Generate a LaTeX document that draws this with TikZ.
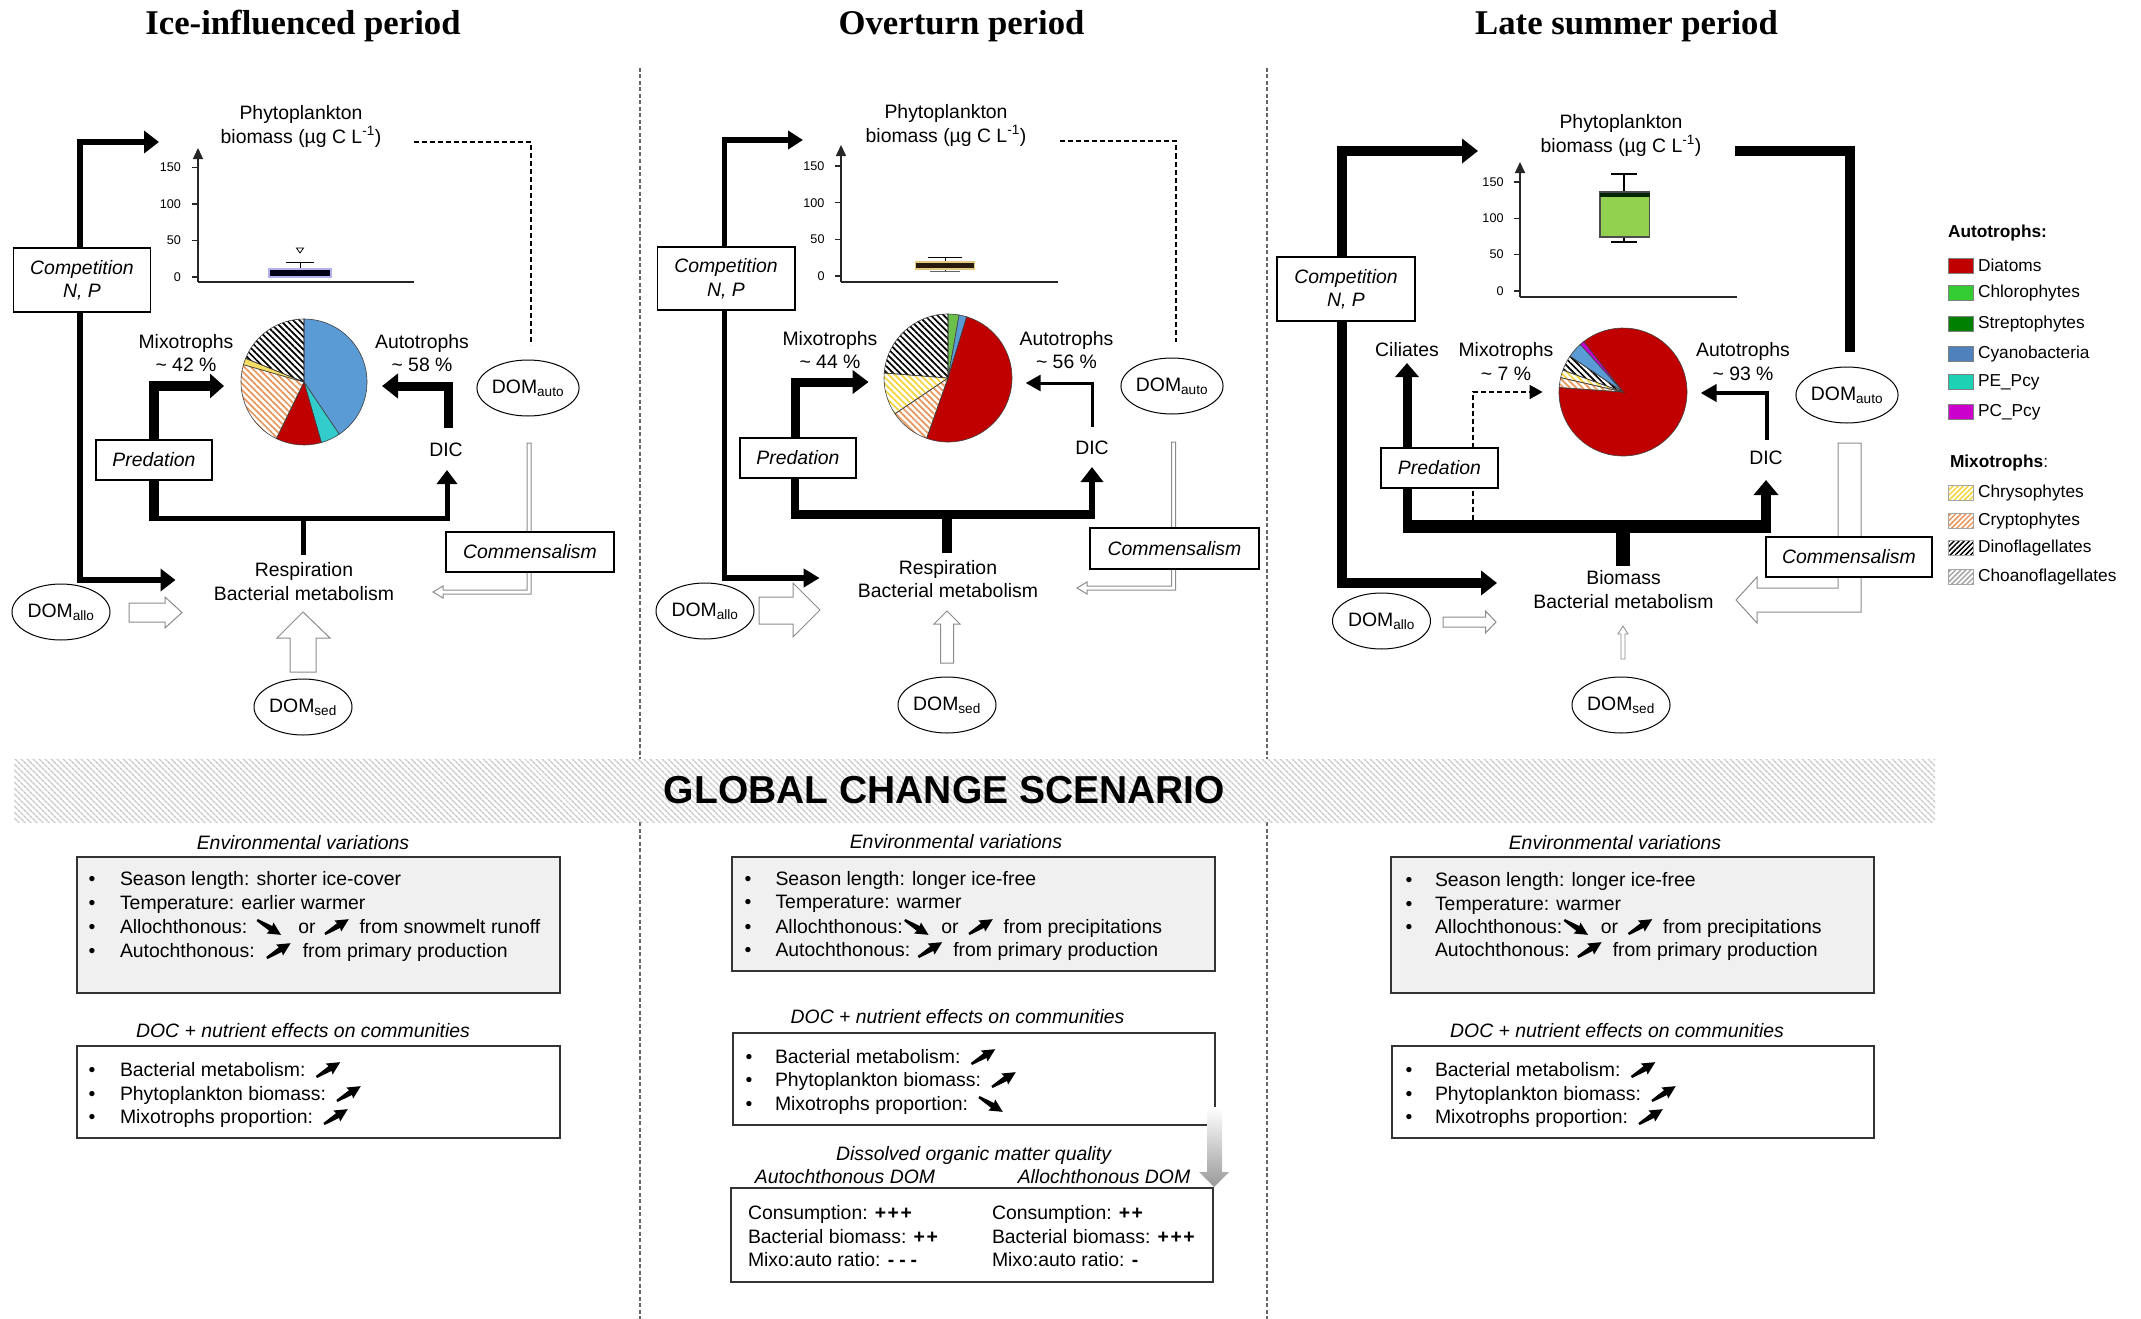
\documentclass[tikz,border=0pt]{standalone}
\usepackage{fontspec}
\setmainfont{Liberation Sans}
\newfontfamily\titleserif{Liberation Serif}
\usetikzlibrary{arrows.meta,shapes.geometric,patterns.meta,calc}
\pgfdeclarelayer{bg}
\pgfsetlayers{bg,main}

% group colours
\definecolor{cdiatom}{HTML}{C00000}
\definecolor{cchloro}{HTML}{33CC33}
\definecolor{cchloropie}{HTML}{6CBF4A}
\definecolor{cstrepto}{HTML}{008000}
\definecolor{ccyano}{HTML}{4F81BD}
\definecolor{ccyanopie}{HTML}{5B9BD5}
\definecolor{cpe}{HTML}{1DD1B5}
\definecolor{cpepie}{HTML}{33CCCC}
\definecolor{cpc}{HTML}{CC00CC}
\definecolor{cchryso}{HTML}{F2D43C}
\definecolor{ccrypto}{HTML}{E8955A}
\definecolor{cchoano}{HTML}{A6A6A6}
\definecolor{cgreenbox}{HTML}{92D050}
\definecolor{cenv}{HTML}{F0F0F0}

\newcommand\fmain{\fontsize{19.4}{23.5}\selectfont}
\newcommand\ftick{\fontsize{12.6}{14}\selectfont}
\newcommand\fleg{\fontsize{17.3}{20}\selectfont}
\newcommand\ftitle{\titleserif\bfseries\fontsize{34.7}{40}\selectfont}
\newcommand\fbanner{\bfseries\fontsize{39}{44}\selectfont}

% text lines of the scenario boxes
\newcounter{lnum}
\newcommand\bulletat[2]{\stepcounter{lnum}\node[anchor=base] (bu\thelnum) at (#1,-#2-7) {\textbullet};}
\newcommand\textat[3]{\stepcounter{lnum}\node[anchor=base west] (tx\thelnum) at (#1,-#2-7) {#3};}
\newcommand\effectline[5]{\bulletat{#1}{#3}\textat{#2}{#3}{#4}\pic at ($(tx\thelnum.base east)+(11,-1)$) {#5};}

% one sector of a pie chart: centre, radius, start angle, end angle, style
\newcommand\pieslice[5]{\path[draw=black!75, line width=0.6pt, #5] (#1) -- ++(#3:#2) arc[start angle=#3, end angle=#4, radius=#2] -- cycle;}

\begin{document}
\begin{tikzpicture}[x=1pt,y=1pt,
  every node/.style={font=\fmain, inner sep=0pt, outer sep=0pt},
  framebox/.style={draw, line width=1.5pt, fill=white, font=\fmain\itshape, align=center},
  domell/.style={ellipse, draw, line width=1pt, fill=white, minimum width=98pt, minimum height=56pt},
  hollow/.style={draw=black!45, line width=1pt, fill=white},
  flow/.style={line join=miter, line cap=butt},
  axisline/.style={line width=1.5pt, black!85},
  sepline/.style={black!60, line width=1.2pt, dash pattern=on 4pt off 2.5pt},
  hatchpie/.style={pattern={Lines[angle=-45,distance=4.5pt,line width=1.7pt]}, pattern color=#1},
  hatchleg/.style={pattern={Lines[angle=45,distance=3.6pt,line width=1.5pt]}, pattern color=#1},
  textbox/.style={draw=black!80, line width=2pt},
  uparrow/.pic={\fill[rotate=32] (0,-1.2) -- (16,-2.8) -- (15,-6.5) -- (28,0) -- (15,6.5) -- (16,2.8) -- (0,1.2) -- cycle;},
  dnarrow/.pic={\fill[shift={(0,14)},rotate=-32] (0,-1.2) -- (16,-2.8) -- (15,-6.5) -- (28,0) -- (15,6.5) -- (16,2.8) -- (0,1.2) -- cycle;}
]
\useasboundingbox (0,0) rectangle (2141,-1319);

\begin{pgfonlayer}{bg}
\fill[white] (0,0) rectangle (2141,-1319);

% column separators
\draw[sepline] (640,-68) -- (640,-759) (640,-822) -- (640,-1319);
\draw[sepline] (1267,-68) -- (1267,-759) (1267,-822) -- (1267,-1319);

% ---------- Ice-influenced period: flows ----------
\draw[flow, line width=6pt, {Triangle[length=15pt,width=22pt]}-{Triangle[length=15pt,width=22pt]}]
  (175.5,-580) -- (80,-580) -- (80,-142) -- (159,-142);
\draw[flow, line width=10pt, -{Triangle[length=14pt,width=24pt]}] (154,-440) -- (154,-386) -- (224,-386);
\draw[flow, line width=10pt] (154,-480) -- (154,-520.5);
\draw[flow, line width=5pt, -{Triangle[length=14pt,width=20pt]}] (149,-518) -- (447,-518) -- (447,-470);
\draw[flow, line width=5pt] (303,-518) -- (303,-555);
\draw[flow, line width=9pt, -{Triangle[length=16pt,width=24pt]}] (448,-428) -- (448,-386) -- (382,-386);
\draw[flow, line width=2pt, dash pattern=on 5pt off 3pt] (414,-142) -- (531,-142) -- (531,-345);
\draw[hollow] (527,-443) -- (527,-590) -- (443,-590) -- (443,-586) -- (433,-592) -- (443,-598) -- (443,-594) -- (531,-594) -- (531,-443) -- cycle;
\draw[hollow] (129,-603) -- (165,-603) -- (165,-597) -- (182,-612.5) -- (165,-628) -- (165,-622) -- (129,-622) -- cycle;
\draw[hollow] (290,-672) -- (290,-638) -- (277,-638) -- (303,-612) -- (330,-638) -- (316,-638) -- (316,-672) -- cycle;

% ---------- Overturn period: flows ----------
\draw[flow, line width=5.5pt, {Triangle[length=16pt,width=18pt]}-{Triangle[length=15pt,width=18pt]}]
  (819.6,-578) -- (724.5,-578) -- (724.5,-140) -- (803,-140);
\draw[flow, line width=9pt, -{Triangle[length=16pt,width=23pt]}] (795,-438) -- (795,-382) -- (868.6,-382);
\draw[flow, line width=8pt] (795,-478) -- (795,-519);
\draw[flow, line width=9pt] (791,-514.5) -- (1095,-514.5);
\draw[flow, line width=6pt, -{Triangle[length=15pt,width=22pt]}] (1092,-519) -- (1092,-467);
\draw[flow, line width=10pt] (947,-514) -- (947,-553);
\draw[flow, line width=3pt, -{Triangle[length=15pt,width=16pt]}] (1092,-427) -- (1092,-383) -- (1025.7,-383);
\draw[flow, line width=2pt, dash pattern=on 5pt off 3pt] (1060,-141) -- (1175.5,-141) -- (1175.5,-342);
\draw[hollow] (1171.5,-442) -- (1171.5,-586) -- (1087,-586) -- (1087,-582) -- (1077,-588) -- (1087,-594) -- (1087,-590) -- (1175.5,-590) -- (1175.5,-442) -- cycle;
\draw[hollow] (759,-597) -- (793,-597) -- (793,-583) -- (820,-610) -- (793,-637) -- (793,-624) -- (759,-624) -- cycle;
\draw[hollow] (940.5,-663) -- (940.5,-624) -- (934,-624) -- (947,-611) -- (960,-624) -- (953.5,-624) -- (953.5,-663) -- cycle;

% ---------- Late summer period: flows ----------
\draw[flow, line width=10pt, {Triangle[length=16pt,width=24pt]}-{Triangle[length=16pt,width=24pt]}]
  (1497,-583) -- (1342,-583) -- (1342,-151) -- (1478,-151);
\draw[flow, line width=10pt] (1735,-151) -- (1849.6,-151) -- (1849.6,-352);
\draw[flow, line width=9pt, -{Triangle[length=14pt,width=23pt]}] (1407,-531) -- (1407,-363);
\draw[flow, line width=13pt] (1402.5,-526.5) -- (1771,-526.5);
\draw[flow, line width=10pt, -{Triangle[length=15pt,width=24pt]}] (1766,-526) -- (1766,-480);
\draw[flow, line width=14pt] (1623,-526) -- (1623,-566);
\draw[flow, line width=1.8pt, dash pattern=on 5pt off 3pt, -{Triangle[length=13pt,width=14pt]}] (1473,-520) -- (1473,-392) -- (1542.6,-392);
\draw[flow, line width=4pt, -{Triangle[length=16pt,width=17pt]}] (1767,-440) -- (1767,-393) -- (1700.6,-393);
\draw[hollow] (1838,-443) -- (1838,-588) -- (1757,-588) -- (1757,-577) -- (1736,-600) -- (1757,-623) -- (1757,-612) -- (1861,-612) -- (1861,-443) -- cycle;
\draw[hollow] (1443,-617) -- (1485.5,-617) -- (1485.5,-611) -- (1496,-622) -- (1485.5,-633) -- (1485.5,-627) -- (1443,-627) -- cycle;
\draw[hollow, line width=0.8pt] (1621,-659) -- (1621,-634) -- (1618,-634) -- (1623,-626) -- (1628,-634) -- (1625,-634) -- (1625,-659) -- cycle;
\end{pgfonlayer}

% ---------- titles ----------
\node[font=\ftitle] (title1) at (303,-26) {Ice-influenced period};
\node[font=\ftitle] (title2) at (961.5,-26) {Overturn period};
\node[font=\ftitle] (title3) at (1626.5,-26) {Late summer period};

% ---------- biomass plots ----------
\node[align=center] (phy1) at (301,-126.5) {Phytoplankton\\biomass (µg C L\textsuperscript{-1})};
\draw[axisline, -{Triangle[length=11pt,width=10pt]}] (198,-282) -- (198,-148);
\draw[axisline] (198,-282) -- (414,-282);
\foreach \v in {0,50,100,150} {
  \draw[line width=1.2pt, black!85] (192,{-277+0.73*\v}) -- (198,{-277+0.73*\v});
  \node[font=\ftick, anchor=east] (ya\v) at (181,{-277+0.73*\v}) {\v};
}
\draw[line width=1pt] (300,-277) -- (300,-262) (286,-262) -- (314,-262);
\filldraw[fill=black!90!blue, draw=black!25!blue!30, line width=1.2pt] (269,-269) rectangle (331,-277);
\draw[line width=0.8pt] (296.5,-248) -- (303.5,-248) -- (300,-253) -- cycle;

\node[align=center] (phy2) at (946,-125.5) {Phytoplankton\\biomass (µg C L\textsuperscript{-1})};
\draw[axisline, -{Triangle[length=11pt,width=10pt]}] (841,-282) -- (841,-145);
\draw[axisline] (841,-282) -- (1058,-282);
\foreach \v in {0,50,100,150} {
  \draw[line width=1.2pt, black!85] (835,{-276+0.733*\v}) -- (841,{-276+0.733*\v});
  \node[font=\ftick, anchor=east] (yb\v) at (824.5,{-276+0.733*\v}) {\v};
}
\draw[line width=1pt, black!60] (930,-271) -- (960,-271);
\draw[line width=1pt] (945,-257) -- (945,-271) (928,-257) -- (962,-257);
\filldraw[fill=black!80!brown, draw=brown!70!yellow!60, line width=1.2pt] (915.5,-262) rectangle (974.7,-269);

\node[align=center] (phy3) at (1621,-135.5) {Phytoplankton\\biomass (µg C L\textsuperscript{-1})};
\draw[axisline, -{Triangle[length=11pt,width=10pt]}] (1520,-297) -- (1520,-162);
\draw[axisline] (1520,-297) -- (1737,-297);
\foreach \v in {0,50,100,150} {
  \draw[line width=1.2pt, black!85] (1514,{-291+0.727*\v}) -- (1520,{-291+0.727*\v});
  \node[font=\ftick, anchor=east] (yc\v) at (1503.5,{-291+0.727*\v}) {\v};
}
\draw[line width=1.2pt] (1624,-174) -- (1624,-242) (1611,-174) -- (1637,-174) (1611,-242) -- (1637,-242);
\filldraw[fill=cgreenbox, draw=black!70, line width=1.2pt] (1600,-192) rectangle (1649.6,-237);
\draw[line width=3.5pt, black!85!green] (1600,-195) -- (1649.6,-195);

% ---------- community pies ----------
\pieslice{304,-382}{63}{-56}{90}{fill=ccyanopie}
\pieslice{304,-382}{63}{-74}{-56}{fill=cpepie}
\pieslice{304,-382}{63}{-116}{-74}{fill=cdiatom}
\pieslice{304,-382}{63}{164}{244}{hatchpie=ccrypto}
\pieslice{304,-382}{63}{158}{164}{fill=cchryso!80}
\pieslice{304,-382}{63}{90}{158}{hatchpie=black}

\pieslice{948,-378}{64}{80}{90}{fill=cchloropie}
\pieslice{948,-378}{64}{73}{80}{fill=ccyanopie}
\pieslice{948,-378}{64}{-109.5}{73}{fill=cdiatom}
\pieslice{948,-378}{64}{214}{250.5}{hatchpie=ccrypto}
\pieslice{948,-378}{64}{175.5}{214}{hatchpie=cchryso}
\pieslice{948,-378}{64}{90}{175.5}{hatchpie=black}

\pieslice{1623,-392}{64}{-184}{128}{fill=cdiatom}
\pieslice{1623,-392}{64}{128}{132}{fill=cpc}
\pieslice{1623,-392}{64}{132}{146}{fill=ccyanopie}
\pieslice{1623,-392}{64}{146}{160}{hatchpie=black}
\pieslice{1623,-392}{64}{160}{167}{hatchpie=cchryso}
\pieslice{1623,-392}{64}{167}{176}{hatchpie=ccrypto}

% ---------- labels and boxes, ice-influenced ----------
\node[align=center] (mix1) at (186,-353) {Mixotrophs\\\textasciitilde{} 42 \%};
\node[align=center] (aut1) at (422,-353) {Autotrophs\\\textasciitilde{} 58 \%};
\node (dic1) at (446,-450) {DIC};
\node[align=center] (resp1) at (304,-581.5) {Respiration\\Bacterial metabolism};
\node[framebox, minimum width=137pt, minimum height=64pt] (comp1) at (82,-280) {Competition\\N, P};
\node[framebox, minimum width=116pt, minimum height=40pt] (pred1) at (154,-460) {Predation};
\node[framebox, minimum width=168pt, minimum height=40pt] (comm1) at (530,-552) {Commensalism};
\node[domell] (dauto1) at (528,-388) {DOM\textsubscript{auto}};
\node[domell] (dallo1) at (61,-612) {DOM\textsubscript{allo}};
\node[domell] (dsed1) at (303,-707) {DOM\textsubscript{sed}};

% ---------- labels and boxes, overturn ----------
\node[align=center] (mix2) at (830,-350) {Mixotrophs\\\textasciitilde{} 44 \%};
\node[align=center] (aut2) at (1066.5,-350) {Autotrophs\\\textasciitilde{} 56 \%};
\node (dic2) at (1092,-448) {DIC};
\node[align=center] (resp2) at (948,-579) {Respiration\\Bacterial metabolism};
\node[framebox, minimum width=137.5pt, minimum height=63pt] (comp2) at (726,-278.5) {Competition\\N, P};
\node[framebox, minimum width=116pt, minimum height=40pt] (pred2) at (798,-458) {Predation};
\node[framebox, minimum width=169pt, minimum height=41pt] (comm2) at (1174.5,-548.5) {Commensalism};
\node[domell] (dauto2) at (1172,-386) {DOM\textsubscript{auto}};
\node[domell] (dallo2) at (705,-611) {DOM\textsubscript{allo}};
\node[domell] (dsed2) at (947,-705) {DOM\textsubscript{sed}};

% ---------- labels and boxes, late summer ----------
\node (cil3) at (1407,-350) {Ciliates};
\node[align=center] (mix3) at (1506,-361.5) {Mixotrophs\\\textasciitilde{} 7 \%};
\node[align=center] (aut3) at (1743,-361.5) {Autotrophs\\\textasciitilde{} 93 \%};
\node (dic3) at (1766,-458) {DIC};
\node[align=center] (resp3) at (1623.5,-589.5) {Biomass\\Bacterial metabolism};
\node[framebox, minimum width=138pt, minimum height=64pt] (comp3) at (1346,-289) {Competition\\N, P};
\node[framebox, minimum width=117pt, minimum height=40pt] (pred3) at (1439.5,-468) {Predation};
\node[framebox, minimum width=166pt, minimum height=40pt] (comm3) at (1849,-557) {Commensalism};
\node[domell] (dauto3) at (1847,-395) {DOM\textsubscript{auto}};
\node[domell] (dallo3) at (1381.5,-621) {DOM\textsubscript{allo}};
\node[domell] (dsed3) at (1621,-705) {DOM\textsubscript{sed}};

% ---------- legend ----------
\node[font=\fleg\bfseries, anchor=west] (legA) at (1948,-233) {Autotrophs:};
\foreach \c/\t/\y [count=\i] in {cdiatom/Diatoms/265.7, cchloro/Chlorophytes/293, cstrepto/Streptophytes/324, ccyano/Cyanobacteria/354, cpe/PE\_Pcy/382, cpc/PC\_Pcy/412} {
  \node[draw=black!50, line width=0.6pt, fill=\c, minimum width=25pt, minimum height=15pt] (asq\i) at (1960.5,-\y) {};
  \node[font=\fleg, anchor=west] (atx\i) at (1978,-\y) {\t};
}
\node[font=\fleg, anchor=west] (legM) at (1950,-463) {\textbf{Mixotrophs}:};
\foreach \c/\t/\y [count=\i] in {cchryso/Chrysophytes/493, ccrypto/Cryptophytes/521, black/Dinoflagellates/548, cchoano/Choanoflagellates/577} {
  \node[draw=black!35, line width=0.6pt, hatchleg=\c, minimum width=25pt, minimum height=15pt] (msq\i) at (1960.5,-\y) {};
  \node[font=\fleg, anchor=west] (mtx\i) at (1978,-\y) {\t};
}

% ---------- global change banner ----------
\fill[white] (14,-759) rectangle (1935,-822);
\fill[pattern={Lines[angle=-45,distance=4pt,line width=1.4pt]}, pattern color=black!22] (14,-759) rectangle (1935,-822);
\node[font=\fbanner] (banner) at (944.5,-790.5) {GLOBAL CHANGE SCENARIO};

% ---------- scenario: ice-influenced ----------
\node[font=\fmain\itshape] (envt1) at (303,-843) {Environmental variations};
\node[textbox, fill=cenv, minimum width=483.5pt, minimum height=136pt] (env1) at (318.25,-925) {};
\bulletat{92}{878}\textat{120}{878}{Season length: shorter ice-cover}
\bulletat{92}{902}\textat{120}{902}{Temperature: earlier warmer}
\bulletat{92}{926}
\node[anchor=base west] (al1) at (120,-933) {Allochthonous:};
\pic at ($(al1.base east)+(10,-1)$) {dnarrow};
\node[anchor=base west] (or1) at ($(al1.base east)+(51,0)$) {or};
\pic at ($(or1.base east)+(9.5,-1)$) {uparrow};
\node[anchor=base west] (fr1) at ($(or1.base east)+(44,0)$) {from snowmelt runoff};
\bulletat{92}{950}
\node[anchor=base west] (au1) at (120,-957) {Autochthonous:};
\pic at ($(au1.base east)+(12,-1)$) {uparrow};
\node[anchor=base west] (pp1) at ($(au1.base east)+(48,0)$) {from primary production};

\node[font=\fmain\itshape] (doct1) at (303,-1031) {DOC + nutrient effects on communities};
\node[textbox, fill=white, minimum width=483.5pt, minimum height=92pt] (doc1) at (318.25,-1092) {};
\effectline{92}{120}{1069}{Bacterial metabolism:}{uparrow}
\effectline{92}{120}{1093}{Phytoplankton biomass:}{uparrow}
\effectline{92}{120}{1116}{Mixotrophs proportion:}{uparrow}

% ---------- scenario: overturn ----------
\node[font=\fmain\itshape] (envt2) at (956,-842) {Environmental variations};
\node[textbox, fill=cenv, minimum width=483pt, minimum height=114pt] (env2) at (973.5,-914) {};
\bulletat{748}{878}\textat{775.5}{878}{Season length: longer ice-free}
\bulletat{748}{901}\textat{775.5}{901}{Temperature: warmer}
\bulletat{748}{926}
\node[anchor=base west] (al2) at (775.5,-933) {Allochthonous:};
\pic at ($(al2.base east)+(2,-1)$) {dnarrow};
\node[anchor=base west] (or2) at ($(al2.base east)+(38.5,0)$) {or};
\pic at ($(or2.base east)+(10.5,-1)$) {uparrow};
\node[anchor=base west] (fr2) at ($(or2.base east)+(45,0)$) {from precipitations};
\bulletat{748}{949}
\node[anchor=base west] (au2) at (775.5,-956) {Autochthonous:};
\pic at ($(au2.base east)+(8,-1)$) {uparrow};
\node[anchor=base west] (pp2) at ($(au2.base east)+(43,0)$) {from primary production};

\node[font=\fmain\itshape] (doct2) at (957.5,-1017) {DOC + nutrient effects on communities};
\node[textbox, fill=white, minimum width=482.5pt, minimum height=92pt] (doc2) at (973.75,-1079) {};
\effectline{749}{775}{1056}{Bacterial metabolism:}{uparrow}
\effectline{749}{775}{1079}{Phytoplankton biomass:}{uparrow}
\effectline{749}{775}{1103}{Mixotrophs proportion:}{dnarrow}
\shade[top color=white, bottom color=black!40] (1207,-1107) -- (1222,-1107) -- (1222,-1172) -- (1229,-1172) -- (1214,-1187) -- (1199,-1172) -- (1207,-1172) -- cycle;

\node[font=\fmain\itshape] (qual) at (973.6,-1155) {Dissolved organic matter quality};
\node[font=\fmain\itshape] (qauto) at (845,-1177) {Autochthonous DOM};
\node[font=\fmain\itshape] (qallo) at (1104,-1177) {Allochthonous DOM};
\node[textbox, fill=white, minimum width=482.3pt, minimum height=94pt] (qbox) at (971.85,-1235) {};
\textat{748}{1212}{Consumption: \textbf{+\kern1.5pt+\kern1.5pt+}}
\textat{748}{1236}{Bacterial biomass: \textbf{+\kern1.5pt+}}
\textat{748}{1259}{Mixo:auto ratio: \textbf{-\kern5pt-\kern5pt-}}
\textat{992}{1212}{Consumption: \textbf{+\kern1.5pt+}}
\textat{992}{1236}{Bacterial biomass: \textbf{+\kern1.5pt+\kern1.5pt+}}
\textat{992}{1259}{Mixo:auto ratio: \textbf{-}}

% ---------- scenario: late summer ----------
\node[font=\fmain\itshape] (envt3) at (1615,-843) {Environmental variations};
\node[textbox, fill=cenv, minimum width=483pt, minimum height=136pt] (env3) at (1632.5,-925) {};
\bulletat{1409}{879}\textat{1435}{879}{Season length: longer ice-free}
\bulletat{1409}{903}\textat{1435}{903}{Temperature: warmer}
\bulletat{1409}{926}
\node[anchor=base west] (al3) at (1435,-933) {Allochthonous:};
\pic at ($(al3.base east)+(2,-1)$) {dnarrow};
\node[anchor=base west] (or3) at ($(al3.base east)+(38.5,0)$) {or};
\pic at ($(or3.base east)+(10.5,-1)$) {uparrow};
\node[anchor=base west] (fr3) at ($(or3.base east)+(45,0)$) {from precipitations};
\node[anchor=base west] (au3) at (1435,-956) {Autochthonous:};
\pic at ($(au3.base east)+(8,-1)$) {uparrow};
\node[anchor=base west] (pp3) at ($(au3.base east)+(43,0)$) {from primary production};

\node[font=\fmain\itshape] (doct3) at (1617,-1031) {DOC + nutrient effects on communities};
\node[textbox, fill=white, minimum width=482pt, minimum height=92pt] (doc3) at (1633,-1092) {};
\effectline{1409}{1435}{1069}{Bacterial metabolism:}{uparrow}
\effectline{1409}{1435}{1093}{Phytoplankton biomass:}{uparrow}
\effectline{1409}{1435}{1116}{Mixotrophs proportion:}{uparrow}
\end{tikzpicture}
\end{document}
